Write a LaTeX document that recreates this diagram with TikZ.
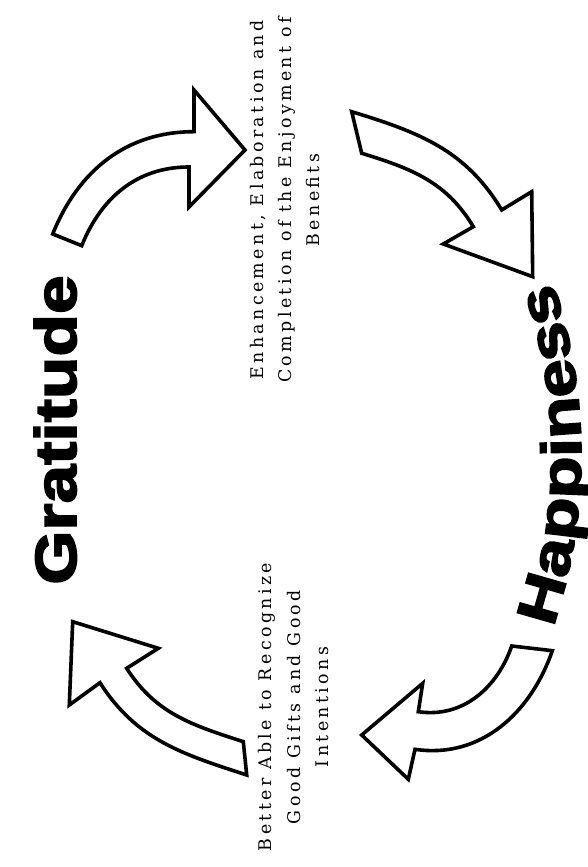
\documentclass[tikz,border=0pt]{standalone}
\usepackage{fontspec}
\setmainfont{DejaVu Serif}
\newfontfamily\heavy{Liberation Sans Bold}[FakeBold=3,FakeStretch=1.2]
\newfontfamily\heavyh{Liberation Sans Bold}[FakeBold=3,FakeStretch=1.24]
\newfontfamily\spaced{DejaVu Serif}[LetterSpace=19.5]
\usetikzlibrary{decorations.text}
\begin{document}
\begin{tikzpicture}[x=1pt,y=1pt,
  bigarrow/.style={draw=black, fill=white, line width=3.6pt, line join=miter},
  caption/.style={rotate=90, align=center, inner sep=0pt, font=\spaced\fontsize{17.4}{28.4}\selectfont},
  title/.style={rotate=90, anchor=base, inner sep=0pt, font=\heavy\fontsize{58}{60}\selectfont}]
\useasboundingbox (0,0) rectangle (587,867);
% arrow 1 (top-left)
\coordinate (t1a) at (52.7,633);
\coordinate (o1) at (194,735.3);
\coordinate (b1a) at (194,777);
\coordinate (tip1) at (245,717);
\coordinate (b1b) at (189,660);
\coordinate (i1) at (189,700);
\coordinate (t1b) at (81.7,621.3);
\draw[bigarrow] (t1a) to[out=68,in=180] (o1) -- (b1a) -- (tip1) -- (b1b) -- (i1) to[out=180,in=68] (t1b) -- cycle;
% arrow 2 (top-right)
\coordinate (t2a) at (351.7,755.3);
\coordinate (o2) at (501.7,657);
\coordinate (b2a) at (531.7,675.3);
\coordinate (tip2) at (532.7,590.3);
\coordinate (b2b) at (443.3,623);
\coordinate (i2) at (473.3,640.3);
\coordinate (t2b) at (361.7,713.7);
\draw[bigarrow] (t2a) to[out=-17,in=121] (o2) -- (b2a) -- (tip2) -- (b2b) -- (i2) to[out=121,in=-17] (t2b) -- cycle;
% arrow 3 (bottom-right)
\coordinate (t3b) at (552.3,216.3);
\coordinate (o3) at (415,117.7);
\coordinate (b3a) at (408.3,87.7);
\coordinate (tip3) at (361.7,132);
\coordinate (b3b) at (422.7,183.7);
\coordinate (i3) at (418.3,155.3);
\coordinate (t3a) at (511.7,221);
\draw[bigarrow] (t3b) to[out=-109,in=-8.5] (o3) -- (b3a) -- (tip3) -- (b3b) -- (i3) to[out=-8.5,in=-109] (t3a) -- cycle;
% arrow 4 (bottom-left)
\coordinate (t4b) at (246.7,92);
\coordinate (o4) at (100,184.3);
\coordinate (b4a) at (69.3,162);
\coordinate (tip4) at (72.7,245.3);
\coordinate (b4b) at (158.3,218.7);
\coordinate (i4) at (126.7,198.7);
\coordinate (t4a) at (243.3,125.3);
\draw[bigarrow] (t4b) to[out=162,in=-57.5] (o4) -- (b4a) -- (tip4) -- (b4b) -- (i4) to[out=-57.5,in=162] (t4a) -- cycle;
% titles
\node[title] (grat) at (76,437) {Gratitude};
\path[decorate, decoration={text along path, text align=center,
  text={|\heavyh\fontsize{56}{58}\selectfont|Happiness}}]
  (41,412) ++(-25:540) arc[start angle=-25, end angle=25, radius=540];
% captions
\node[caption] (enh) at (285.1,667) {Enhancement, Elaboration and\\Completion of the Enjoyment of\\Benefits};
\node[caption] (better) at (293.8,160) {Better Able to Recognize\\Good Gifts and Good\\Intentions};
\end{tikzpicture}
\end{document}
